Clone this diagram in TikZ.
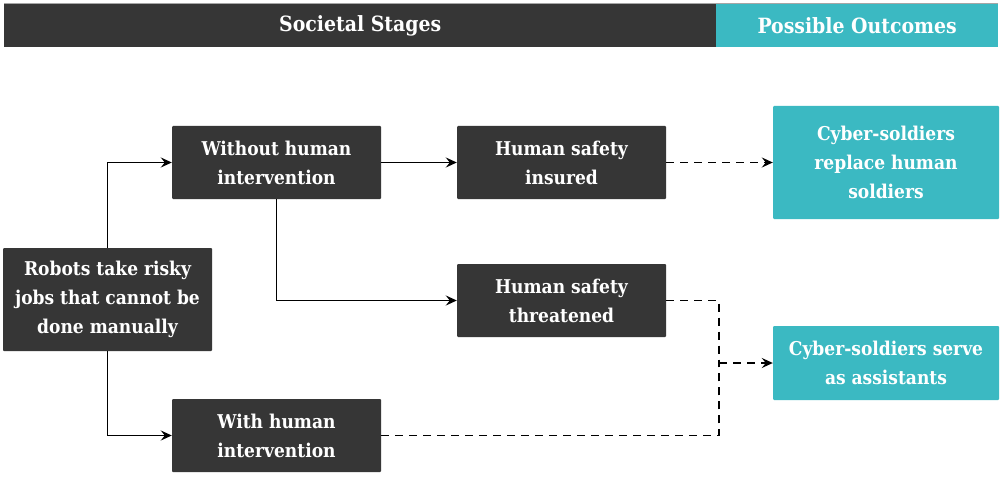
\documentclass[tikz,border=0pt]{standalone}
\usepackage{fontspec}
\setmainfont{DejaVu Serif Condensed}
\usetikzlibrary{arrows.meta}
\definecolor{darkbox}{HTML}{363636}
\definecolor{tealbox}{HTML}{3BB9C2}
\begin{document}
\begin{tikzpicture}[x=1pt,y=-1pt,
  stagebox/.style={fill=darkbox, text=white, rounded corners=1pt, inner sep=0pt, align=center,
    font=\fontsize{19}{29}\selectfont\bfseries},
  outbox/.style={fill=tealbox, text=white, rounded corners=1pt, inner sep=0pt, align=center,
    font=\fontsize{19}{29}\selectfont\bfseries},
  hdr/.style={inner sep=0pt, text=white, font=\fontsize{21}{24}\selectfont\bfseries},
  conn/.style={line width=1.8pt, -{Stealth[length=11pt,width=10pt,inset=4pt]}},
  dconn/.style={conn, dashed, dash pattern=on 8pt off 6pt}]
\useasboundingbox (0,0) rectangle (1003,481);
\fill[white] (0,0) rectangle (1003,481);
% header
\fill[gray!70] (4,3) rectangle (998,5);
\node[fill=darkbox, minimum width=712pt, minimum height=43pt, inner sep=0pt, anchor=north west] (hdrL) at (4,4) {};
\node[fill=tealbox, minimum width=282pt, minimum height=43pt, inner sep=0pt, anchor=north west] (hdrR) at (716,4) {};
\node[hdr] (hdrLt) at (hdrL.center) {Societal Stages};
\node[hdr] (hdrRt) at (hdrR.center) {Possible Outcomes};
% boxes
\node[stagebox, minimum width=209pt, minimum height=103pt] (robots) at (107.5,299.5)
  {Robots take risky\\jobs that cannot be\\done manually};
\node[stagebox, minimum width=209pt, minimum height=73pt] (without) at (276.5,162.5)
  {Without human\\intervention};
\node[stagebox, minimum width=209pt, minimum height=73pt] (with) at (276.5,435.5)
  {With human\\intervention};
\node[stagebox, minimum width=209pt, minimum height=73pt] (insured) at (561.5,162.5)
  {Human safety\\insured};
\node[stagebox, minimum width=209pt, minimum height=73pt] (threat) at (561.5,300.5)
  {Human safety\\threatened};
\node[outbox, minimum width=226pt, minimum height=113pt] (replace) at (886,162.5)
  {Cyber-soldiers\\replace human\\soldiers};
\node[outbox, minimum width=226pt, minimum height=74pt] (serve) at (886,363)
  {Cyber-soldiers serve\\as assistants};
\coordinate (join) at (719,363);
% connectors
\draw[conn] (robots.north) |- (without.west);
\draw[conn] (robots.south) |- (with.west);
\draw[conn] (without.east) -- (insured.west);
\draw[conn] (without.south) |- (threat.west);
\draw[dconn] (insured.east) -- (replace.west);
\draw[dconn,-] (threat.east) -| (join);
\draw[dconn,-] (with.east) -| (join);
\draw[dconn] (join) -- (serve.west);
\end{tikzpicture}
\end{document}
